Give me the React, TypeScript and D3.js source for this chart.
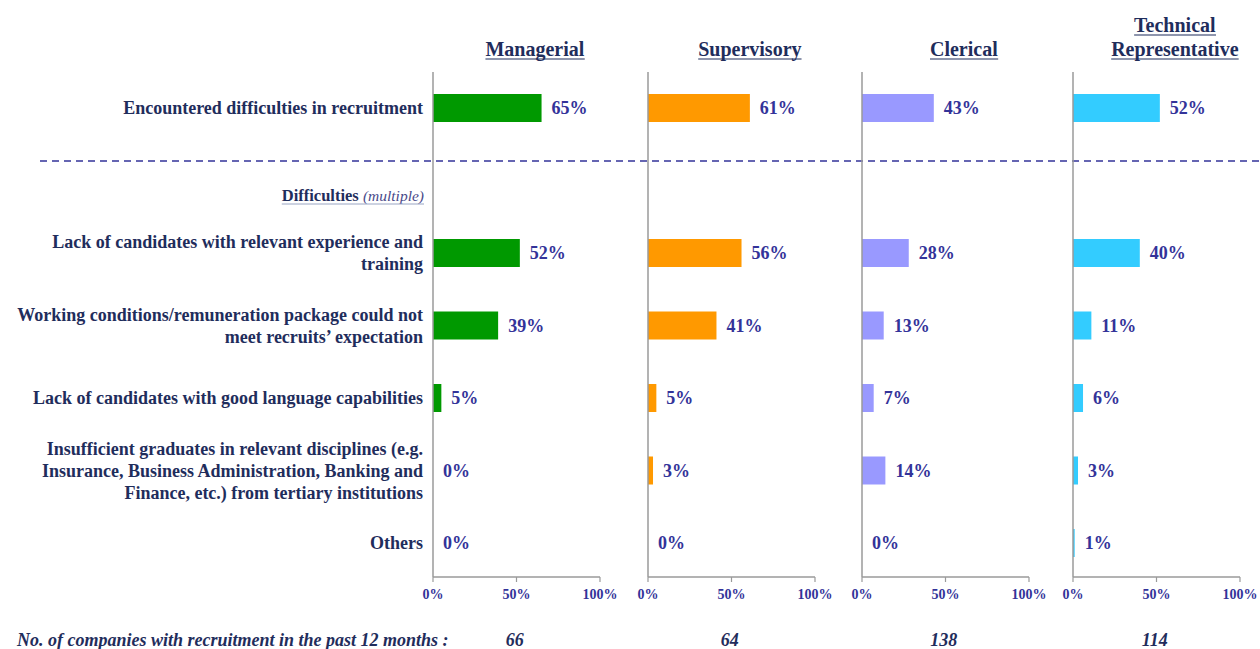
import { useEffect, useRef } from 'react';
import * as d3 from 'd3';

const headerLines = [['Managerial'], ['Supervisory'], ['Clerical'], ['Technical', 'Representative']];

const rowLabels = [
  ['Encountered difficulties in recruitment'],
  ['Lack of candidates with relevant experience and', 'training'],
  ['Working conditions/remuneration package could not', 'meet recruits\u2019 expectation'],
  ['Lack of candidates with good language capabilities'],
  [
    'Insufficient graduates in relevant disciplines (e.g.',
    'Insurance, Business Administration, Banking and',
    'Finance, etc.) from tertiary institutions',
  ],
  ['Others'],
];

// row 0 = encountered difficulties, rows 1..5 = the difficulties themselves
const managerial = [65, 52, 39, 5, 0, 0];
const supervisory = [61, 56, 41, 5, 3, 0];
const clerical = [43, 28, 13, 7, 14, 0];
const technical = [52, 40, 11, 6, 3, 1];

const companyCounts = [66, 64, 138, 114];
const tickValues = [0, 50, 100];
const footLabel = 'No. of companies with recruitment in the past 12 months :';

const barColors = ['#009900', '#FF9900', '#9999FF', '#33CCFF'];

const W = 1260;
const H = 649;
const FONT = '"Liberation Serif", "Times New Roman", serif';
const NAVY = '#1F2D5C';
const VALUE = '#333399';

const App = () => {
  const svgRef = useRef<SVGSVGElement>(null);

  useEffect(() => {
    if (!svgRef.current) return;
    const svg = d3.select(svgRef.current);
    svg.selectAll('*').remove();

    const series = [managerial, supervisory, clerical, technical];

    // panel origins and row positions
    const panelX = d3.scaleLinear().domain([0, 1, 2, 3]).range([433, 648, 862, 1073]);
    const panelWidth = 167;
    const rowY = d3.scalePoint<number>().domain(d3.range(7)).range([108, 543]);
    // slot 1 is the "Difficulties" sub-heading
    const slotOf = (i: number) => (i === 0 ? 0 : i + 1);
    const axisTop = 72;
    const axisBottom = 577;
    const barH = 28;

    // dashed separator
    svg
      .append('line')
      .attr('x1', 40)
      .attr('x2', W)
      .attr('y1', 161)
      .attr('y2', 161)
      .attr('stroke', VALUE)
      .attr('stroke-width', 1.3)
      .attr('stroke-dasharray', '7,5');

    const underline = (t: d3.Selection<SVGTextElement, unknown, null, undefined>, color: string, off = 3) => {
      const b = (t.node() as SVGTextElement).getBBox();
      const y = +t.attr('y') + off;
      svg
        .append('line')
        .attr('x1', b.x)
        .attr('x2', b.x + b.width)
        .attr('y1', y)
        .attr('y2', y)
        .attr('stroke', color)
        .attr('stroke-width', 1.2);
    };

    // row labels
    rowLabels.forEach((lines, i) => {
      const cy = rowY(slotOf(i))!;
      const lh = 22;
      lines.forEach((line, j) => {
        svg
          .append('text')
          .attr('x', 423)
          .attr('y', cy + (j - (lines.length - 1) / 2) * lh + 6)
          .attr('text-anchor', 'end')
          .attr('font-family', FONT)
          .attr('font-weight', 'bold')
          .attr('font-size', 18)
          .attr('fill', NAVY)
          .text(line);
      });
    });

    // sub-heading
    const sub = svg
      .append('text')
      .attr('x', 424)
      .attr('y', 201)
      .attr('text-anchor', 'end')
      .attr('font-family', FONT)
      .attr('fill', NAVY);
    sub.append('tspan').attr('font-weight', 'bold').attr('font-size', 16.5).text('Difficulties ');
    sub.append('tspan').attr('font-style', 'italic').attr('font-size', 15.5).attr('fill', '#4A4A8A').text('(multiple)');
    underline(sub, '#9AA6C4', 3);

    series.forEach((values, p) => {
      const x0 = panelX(p);
      const x = d3.scaleLinear().domain([0, 100]).range([x0, x0 + panelWidth]);
      const g = svg.append('g');

      // header
      const hl = headerLines[p];
      hl.forEach((line, j) => {
        const t = g
          .append('text')
          .attr('x', x(61))
          .attr('y', 56 - (hl.length - 1 - j) * 24)
          .attr('text-anchor', 'middle')
          .attr('font-family', FONT)
          .attr('font-weight', 'bold')
          .attr('font-size', 20)
          .attr('fill', NAVY)
          .text(line);
        underline(t, NAVY, 3);
      });

      // bars
      values.forEach((v, i) => {
        const cy = rowY(slotOf(i))!;
        if (v > 0) {
          g.append('rect')
            .attr('x', x(0))
            .attr('y', cy - barH / 2)
            .attr('width', x(v) - x(0))
            .attr('height', barH)
            .attr('fill', barColors[p]);
        }
        g.append('text')
          .attr('x', x(v) + 10)
          .attr('y', cy + 6)
          .attr('font-family', FONT)
          .attr('font-weight', 'bold')
          .attr('font-size', 18)
          .attr('fill', VALUE)
          .text(`${v}%`);
      });

      // axes
      g.append('line')
        .attr('x1', x(0))
        .attr('x2', x(0))
        .attr('y1', axisTop)
        .attr('y2', axisBottom)
        .attr('stroke', '#9A9A9A')
        .attr('stroke-width', 1.5);
      g.append('line')
        .attr('x1', x(0))
        .attr('x2', x(100))
        .attr('y1', axisBottom)
        .attr('y2', axisBottom)
        .attr('stroke', '#9A9A9A')
        .attr('stroke-width', 1.5);
      tickValues.forEach((tv) => {
        g.append('line')
          .attr('x1', x(tv))
          .attr('x2', x(tv))
          .attr('y1', axisBottom)
          .attr('y2', axisBottom + 5)
          .attr('stroke', '#9A9A9A')
          .attr('stroke-width', 1.2);
        g.append('text')
          .attr('x', x(tv))
          .attr('y', 599)
          .attr('text-anchor', 'middle')
          .attr('font-family', FONT)
          .attr('font-weight', 'bold')
          .attr('font-size', 14)
          .attr('fill', VALUE)
          .text(`${tv}%`);
      });

      // company count
      g.append('text')
        .attr('x', x(49))
        .attr('y', 646)
        .attr('text-anchor', 'middle')
        .attr('font-family', FONT)
        .attr('font-weight', 'bold')
        .attr('font-style', 'italic')
        .attr('font-size', 18)
        .attr('fill', NAVY)
        .text(companyCounts[p]);
    });

    svg
      .append('text')
      .attr('x', 17)
      .attr('y', 646)
      .attr('font-family', FONT)
      .attr('font-weight', 'bold')
      .attr('font-style', 'italic')
      .attr('font-size', 18)
      .attr('fill', NAVY)
      .text(footLabel);
  }, []);

  return (
    <svg
      ref={svgRef}
      width={W}
      height={H}
      style={{ position: 'absolute', left: 0, top: 0, background: '#fff' }}
    />
  );
};

export default App;
